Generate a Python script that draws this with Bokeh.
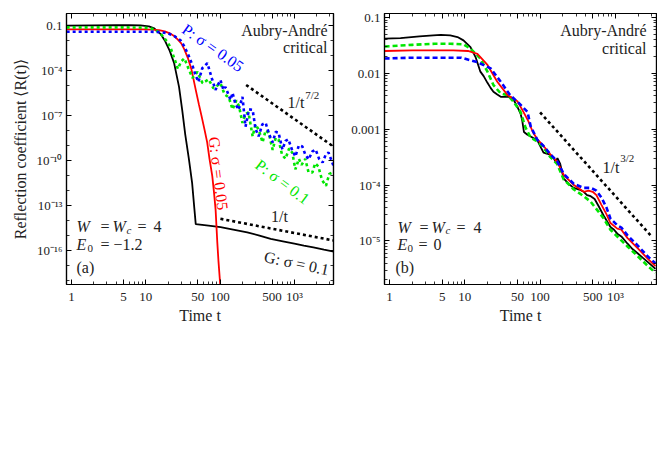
import numpy as np
from bokeh.plotting import figure
from bokeh.layouts import row
from bokeh.models import Range1d, FixedTicker, LogAxis, CustomJSTickFormatter
from bokeh.core.properties import value
from bokeh.embed import file_html
from bokeh.resources import INLINE

FONT = "Liberation Serif"
TXT = "#222222"
BLACK, RED, GREEN, BLUE = "#000000", "#ff0000", "#00e600", "#0000ff"

# ---------------- tick values / labels ----------------
x_tick_vals = [1, 5, 10, 50, 100, 500, 1000]
x_tick_labels = ["1", "5", "10", "50", "100", "500", "10³"]
x_minor = [2, 3, 4, 6, 7, 8, 9, 20, 30, 40, 60, 70, 80, 90,
           200, 300, 400, 600, 700, 800, 900, 2000, 3000]
a_y_tick_vals = [1e-16, 1e-13, 1e-10, 1e-7, 1e-4, 0.1]
a_y_tick_labels = ["10⁻¹⁶", "10⁻¹³", "10⁻¹⁰", "10⁻⁷", "10⁻⁴", "0.1"]
a_y_minor = [1e-18, 1e-17, 1e-15, 1e-14, 1e-12, 1e-11, 1e-9, 1e-8, 1e-6, 1e-5, 1e-3, 1e-2]
b_y_tick_vals = [1e-5, 1e-4, 1e-3, 1e-2, 0.1]
b_y_tick_labels = ["10⁻⁵", "10⁻⁴", "0.001", "0.01", "0.1"]
b_y_minor = [m * d for d in (1e-6, 1e-5, 1e-4, 1e-3, 1e-2) for m in range(2, 10)]

# ---------------- panel (a): E0 = -1.2  (values as log10 R) ----------------
a_G01_t = [0.86, 2, 4, 6, 8.5, 11, 13, 16, 18, 21, 24, 28, 31, 34, 38, 42, 45, 47, 70, 101.5,
           150, 232, 330, 480, 700, 1000, 1340, 1800, 2500, 3390]
a_G01_logR = [-1.02, -1.0, -0.99, -0.99, -1.0, -1.06, -1.2, -1.6, -2.0, -2.7, -3.5, -5.1, -6.7, -8.3,
              -9.9, -11.5, -13.2, -14.25, -14.35, -14.46, -14.62, -14.8, -15.0, -15.24, -15.4, -15.55,
              -15.68, -15.8, -15.95, -16.08]

a_G005_t = [0.86, 3, 6, 9, 12, 15, 18, 21.5, 24, 27, 30, 33, 37, 41, 47, 52, 56, 62, 67, 72, 78.5,
            83, 87, 91.5, 95, 99, 104]
a_G005_logR = [-1.26, -1.26, -1.26, -1.26, -1.28, -1.32, -1.4, -1.55, -1.7, -1.95, -2.2, -2.6, -3.2,
               -3.9, -5.3, -6.3, -7.0, -8.0, -8.8, -9.9, -11.05, -12.2, -13.3, -15.4, -16.7, -17.9, -19.5]

a_P01_t = [0.86, 2, 5, 8, 10, 12.8, 15, 17.5, 19.5, 21.4, 23, 25, 27, 30, 33, 37, 42.5, 49.6, 58, 70,
           81.5, 101, 115, 131, 147, 165, 180, 200, 220, 241, 274, 300, 330, 373, 410, 450, 510, 560,
           612, 680, 758, 850, 938, 1030, 1150, 1250, 1400, 1550, 1750, 1900, 2100, 2350, 2660, 2950, 3300]
a_P01_logR = [-1.13, -1.13, -1.13, -1.14, -1.16, -1.25, -1.45, -1.8, -2.1, -2.44, -2.9, -3.4, -3.9, -3.4,
              -3.2, -3.8, -4.5, -4.1, -4.85, -4.6, -5.2, -4.85, -5.6, -5.8, -6.6, -6.0, -6.4, -7.5, -6.9,
              -6.8, -8.4, -7.6, -7.95, -8.8, -8.0, -8.15, -9.3, -8.5, -8.6, -9.6, -9.9, -9.2, -9.5, -10.6,
              -9.9, -10.3, -9.9, -10.8, -10.8, -10.2, -10.4, -11.3, -11.7, -10.9, -10.8]

a_P005_t = [0.86, 2, 5, 10, 13, 16, 19.8, 24, 29.4, 33, 37.6, 42, 46.6, 51, 57.6, 67.4, 78.6, 86.6, 101,
            111, 118, 138, 147, 160, 177, 200, 220, 245, 274, 300, 330, 370, 410, 460, 510, 560, 612,
            690, 760, 830, 930, 1030, 1150, 1280, 1400, 1550, 1750, 1930, 2150, 2400, 2650, 2880, 3380]
a_P005_logR = [-1.42, -1.42, -1.42, -1.42, -1.43, -1.45, -1.52, -1.7, -2.0, -2.4, -3.0, -3.6, -4.3, -4.77,
               -3.85, -3.52, -4.64, -5.3, -4.64, -5.3, -5.1, -5.97, -5.5, -6.2, -6.63, -5.77, -7.75, -6.6,
               -6.63, -7.9, -8.4, -7.6, -7.5, -8.3, -8.8, -8.1, -8.15, -9.28, -8.7, -8.6, -9.3, -9.74,
               -9.0, -9.08, -9.6, -9.94, -9.4, -9.28, -9.9, -10.14, -9.6, -9.48, -10.4]

a_ref72_t = [224, 3400]          # 1/t^(7/2) guide
a_ref72_R = [1.07e-5, 7.9e-10]
a_ref1_t = [101, 3390]           # 1/t guide
a_ref1_R = [1.26e-14, 4.5e-16]

# ---------------- panel (b): E0 = 0  (values as log10 R) ----------------
b_G01_t = [0.86, 1.4, 2.5, 3.8, 4.8, 6.4, 8, 9.6, 11.9, 14, 16.1, 17.8, 20, 22, 24, 27, 30, 35, 40, 44,
           50, 55, 58, 61, 68, 75, 92, 100, 111, 125, 137, 150, 160, 170, 185, 205, 240, 280, 330, 380,
           420, 470, 530, 600, 700, 860, 960, 1060, 1200, 1450, 1700, 1970, 2300, 2700, 3100, 3400]
b_G01_logR = [-1.38, -1.37, -1.34, -1.32, -1.31, -1.32, -1.35, -1.41, -1.53, -1.72, -1.97, -2.05, -2.17,
              -2.26, -2.33, -2.38, -2.42, -2.42, -2.42, -2.46, -2.6, -2.72, -2.85, -3.05, -3.1, -3.13,
              -3.2, -3.3, -3.42, -3.44, -3.46, -3.5, -3.58, -3.52, -3.62, -3.88, -3.98, -4.05, -4.08,
              -4.12, -4.18, -4.2, -4.25, -4.38, -4.55, -4.75, -4.8, -4.87, -4.92, -5.05, -5.15, -5.22,
              -5.3, -5.38, -5.45, -5.5]

b_P01_t = [0.86, 2, 4, 6.4, 9.6, 11.9, 16, 20, 24, 30, 37, 44, 55, 64, 75, 92, 111, 137, 168, 206, 281,
           380, 470, 600, 700, 860, 1060, 1450, 1970, 2700, 3400]
b_P01_logR = [-1.52, -1.49, -1.47, -1.47, -1.48, -1.56, -1.73, -1.97, -2.21, -2.36, -2.39, -2.5, -2.69,
              -2.97, -3.15, -3.22, -3.33, -3.5, -3.62, -3.9, -4.08, -4.2, -4.3, -4.48, -4.6, -4.8, -4.92,
              -5.1, -5.27, -5.45, -5.57]

b_G005_t = [0.86, 2, 4, 7, 11, 14.7, 20, 27, 37, 50, 60, 70, 80, 92, 111, 137, 168, 206, 281, 380, 440,
            500, 560, 650, 760, 860, 1060, 1200, 1450, 1970, 2700, 3400]
b_G005_logR = [-1.6, -1.59, -1.59, -1.59, -1.6, -1.65, -1.85, -2.15, -2.39, -2.5, -2.69, -2.86, -3.05,
               -3.18, -3.3, -3.45, -3.58, -3.82, -4.0, -4.12, -4.1, -4.12, -4.18, -4.35, -4.52, -4.68,
               -4.78, -4.8, -4.95, -5.13, -5.32, -5.45]

b_P005_t = [0.86, 2, 4, 7, 9, 14.7, 22, 30, 40, 52, 68, 75, 92, 111, 137, 168, 206, 281, 380, 470, 560,
            650, 760, 860, 1060, 1200, 1450, 1970, 2700, 3400]
b_P005_logR = [-1.735, -1.72, -1.72, -1.72, -1.72, -1.8, -1.91, -2.15, -2.39, -2.53, -2.69, -2.95, -3.19,
               -3.3, -3.45, -3.57, -3.8, -3.98, -4.05, -4.05, -4.1, -4.22, -4.4, -4.6, -4.72, -4.76, -4.9,
               -5.08, -5.28, -5.4]

b_ref32_t = [100, 3100]          # 1/t^(3/2) guide
b_ref32_R = [2.0e-3, 1.16e-5]


def R(logs):
    return [10.0 ** v for v in logs]


FMT_CODE = """
const lt = Math.log10(tick);
for (let i = 0; i < vals.length; i++) {
  if (Math.abs(Math.log10(vals[i]) - lt) < 1e-6) { return labs[i]; }
}
return "";
"""


def style_axis(ax, ticker, vals=None, labs=None):
    ax.ticker = ticker
    ax.major_tick_in = 5
    ax.major_tick_out = 0
    ax.minor_tick_in = 3
    ax.minor_tick_out = 0
    ax.axis_line_color = "black"
    ax.axis_line_width = 1.2
    ax.major_tick_line_color = "black"
    ax.minor_tick_line_color = "black"
    ax.major_tick_line_width = 1
    ax.minor_tick_line_width = 0.8
    if vals is None:
        ax.formatter = CustomJSTickFormatter(code="return '';")
        ax.major_label_text_font_size = "0px"
        ax.major_label_standoff = 0
    else:
        ax.formatter = CustomJSTickFormatter(args=dict(vals=vals, labs=labs), code=FMT_CODE)
        ax.major_label_text_font = FONT
        ax.major_label_text_font_size = "13px"
        ax.major_label_text_color = "#222222"
        ax.major_label_standoff = 4
    ax.axis_label_text_font = FONT
    ax.axis_label_text_font_size = "16px"
    ax.axis_label_text_font_style = "normal"
    ax.axis_label_text_color = "#222222"


def make_fig(width, left, right, xr, yr, y_vals, y_labs, y_minor, ylabel=None):
    p = figure(width=width, height=326, x_axis_type="log", y_axis_type="log",
               x_range=Range1d(*xr), y_range=Range1d(*yr),
               output_backend="svg", toolbar_location=None,
               min_border_left=left, min_border_right=right, min_border_top=13, min_border_bottom=40)
    p.xgrid.visible = False
    p.ygrid.visible = False
    p.outline_line_color = "black"
    p.outline_line_width = 1.2
    p.outline_line_alpha = 1.0
    p.background_fill_color = "white"
    p.border_fill_color = "white"
    xt = FixedTicker(ticks=x_tick_vals, minor_ticks=x_minor)
    yt = FixedTicker(ticks=y_vals, minor_ticks=y_minor)
    style_axis(p.xaxis[0], xt, x_tick_vals, x_tick_labels)
    p.xaxis[0].axis_label = "Time t"
    p.xaxis[0].axis_label_standoff = 0
    style_axis(p.yaxis[0], yt, y_vals, y_labs)
    if ylabel:
        p.yaxis[0].axis_label = ylabel
        p.yaxis[0].axis_label_standoff = 5
    top = LogAxis()
    style_axis(top, FixedTicker(ticks=x_tick_vals, minor_ticks=x_minor))
    p.add_layout(top, "above")
    rgt = LogAxis()
    style_axis(rgt, FixedTicker(ticks=y_vals, minor_ticks=y_minor))
    p.add_layout(rgt, "right")
    return p


def txt(p, x, y, s, size=16, color=TXT, align="left", angle=0, style="normal"):
    p.text(x=[x], y=[y], text=[s], text_font=value(FONT), text_font_size=value(f"{size}px"),
           text_color=color, text_align=align, text_baseline="middle",
           angle=angle, angle_units="deg", text_font_style=style)


# ================= panel (a) =================
pa = make_fig(336, 66, 3, (0.856, 3360), (10 ** -18.28, 10 ** -0.205),
              a_y_tick_vals, a_y_tick_labels, a_y_minor, "Reflection coefficient ⟨R(t)⟩")

pa.line(a_G01_t, R(a_G01_logR), line_color=BLACK, line_width=1.8)
pa.line(a_G005_t, R(a_G005_logR), line_color=RED, line_width=1.8)
pa.line(a_P01_t, R(a_P01_logR), line_color=GREEN, line_width=2.6, line_dash="3 3")
pa.line(a_P005_t, R(a_P005_logR), line_color=BLUE, line_width=2.6, line_dash="3 3")
pa.line(a_ref72_t, a_ref72_R, line_color=BLACK, line_width=2.6, line_dash="3 3")
pa.line(a_ref1_t, a_ref1_R, line_color=BLACK, line_width=2.6, line_dash="3 3")

txt(pa, 2790, 10 ** -1.33, "Aubry-André", align="right")
txt(pa, 2790, 10 ** -2.46, "critical", align="right")
txt(pa, 80, 10 ** -2.49, "P: σ = 0.05", color=BLUE, align="center", angle=-35)
txt(pa, 807, 10 ** -6.17, "1/t")
txt(pa, 1400, 10 ** -5.64, "7/2", size=11)
txt(pa, 95, 10 ** -10.87, "G: σ = 0.05", color=RED, align="center", angle=-83)
txt(pa, 692, 10 ** -11.43, "P: σ = 0.1", color=GREEN, align="center", angle=-37)
txt(pa, 630, 10 ** -13.75, "1/t", align="center")
txt(pa, 1070, 10 ** -16.86, "G: σ = 0.1", align="center", angle=-12)
# W = W_c = 4
txt(pa, 1.168, 10 ** -14.44, "W", style="italic")
txt(pa, 2.456, 10 ** -14.44, "=")
txt(pa, 3.56, 10 ** -14.44, "W", style="italic")
txt(pa, 5.50, 10 ** -14.64, "c", size=11, style="italic")
txt(pa, 7.73, 10 ** -14.44, "=")
txt(pa, 12.7, 10 ** -14.44, "4")
# E_0 = -1.2
txt(pa, 1.168, 10 ** -15.64, "E", style="italic")
txt(pa, 1.642, 10 ** -15.9, "0", size=11)
txt(pa, 2.456, 10 ** -15.64, "=")
txt(pa, 3.68, 10 ** -15.64, "−1.2")
txt(pa, 1.168, 10 ** -17.16, "(a)")

# ================= panel (b) =================
pb = make_fig(321, 48, 1, (0.858, 3515), (10 ** -5.78, 10 ** -0.929),
              b_y_tick_vals, b_y_tick_labels, b_y_minor)

pb.line(b_G01_t, R(b_G01_logR), line_color=BLACK, line_width=1.8)
pb.line(b_P01_t, R(b_P01_logR), line_color=GREEN, line_width=2.6, line_dash="5 3")
pb.line(b_G005_t, R(b_G005_logR), line_color=RED, line_width=1.8)
pb.line(b_P005_t, R(b_P005_logR), line_color=BLUE, line_width=2.6, line_dash="5 3")
pb.line(b_ref32_t, b_ref32_R, line_color=BLACK, line_width=2.6, line_dash="3 3")

txt(pb, 2590, 10 ** -1.231, "Aubry-André", align="right")
txt(pb, 2590, 10 ** -1.551, "critical", align="right")
txt(pb, 674, 10 ** -3.684, "1/t")
txt(pb, 1160, 10 ** -3.524, "3/2", size=11)
txt(pb, 1.277, 10 ** -4.751, "W", style="italic")
txt(pb, 2.5, 10 ** -4.751, "=")
txt(pb, 3.61, 10 ** -4.751, "W", style="italic")
txt(pb, 5.54, 10 ** -4.804, "c", size=11, style="italic")
txt(pb, 7.77, 10 ** -4.751, "=")
txt(pb, 13.0, 10 ** -4.751, "4")
txt(pb, 1.277, 10 ** -5.071, "E", style="italic")
txt(pb, 1.734, 10 ** -5.142, "0", size=11)
txt(pb, 2.43, 10 ** -5.071, "=")
txt(pb, 3.84, 10 ** -5.071, "0")
txt(pb, 1.2, 10 ** -5.48, "(b)")

layout = row(pa, pb)
open("out.html", "w").write(file_html(layout, INLINE))
